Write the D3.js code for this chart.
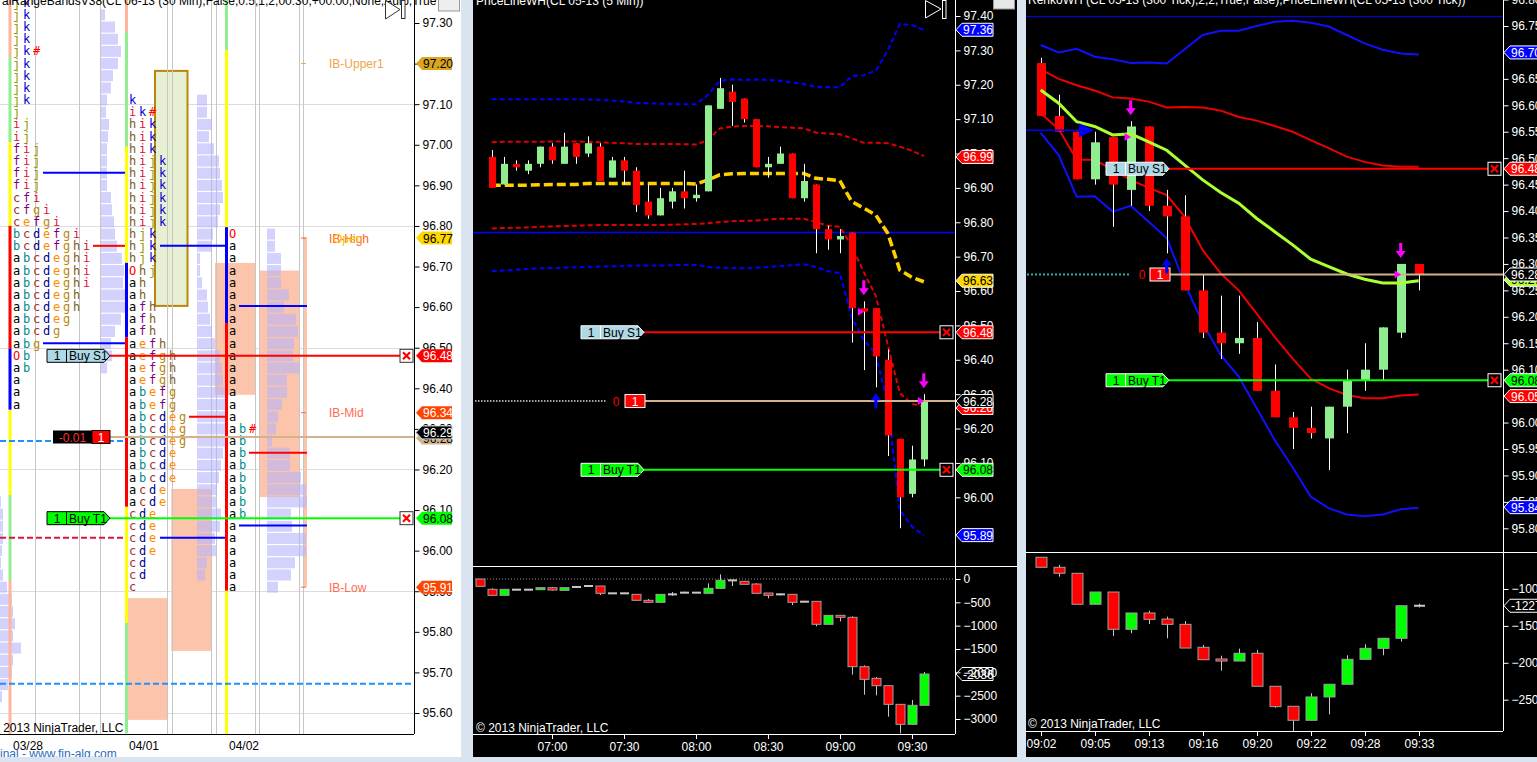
<!DOCTYPE html>
<html><head><meta charset="utf-8">
<script src="https://cdn.jsdelivr.net/npm/d3@7"></script>
<style>
html,body{margin:0;padding:0;background:#d9e4f0;overflow:hidden}
svg{display:block}
</style></head><body>
<svg id="c" width="1537" height="762"></svg>
<script>
// ================= DATA =================
// ---- Left panel: 30 min TPO profile (CL 06-13) ----
const sessions = ["03/28", "04/01", "04/02"];
const tpoStep = 0.03;
const sess1Top = 97.35;
const sess1Rows = ["jk","jk","jk","jk","jk#","jk","jk","jk","jk","j","ij","ij","fij","fij","fij","fij","cfi","cfgi","cefgi","bcdefgi","bcdefghi","abcdeghi","abcdeghi","abcdeghi","abcdegh","abcdegh","abcdeg","abcdg","abg","Ob","ab","a","a","a"];
const sess2Top = 97.11;
const sess2Rows = ["k","ik#","hik","hik","hik","hijk","hijk","hijk","hijk","hijk","hijk","hjk","hjk","hjk","Ohj","ah","ah","afh","afh","afh","aefh","aefgh","aefgh","aefgh","abefg","abefg","abcdeg","abcdeg","abcdeg","abcde","abcde","abcde","acde","acde","cde","cde","cde","cde","cd","cd","c"];
const sess3Top = 96.78;
const sess3Rows = ["O","a","a","a","a","a","a","a","a","a","a","a","a","a","a","a","ab#","ab","ab","ab","ab","ab","ab","ab","a","a","a","a","a","a"];
// volume profiles (relative volume per row)
const prof0Top = 96.12, prof0Vol = [1,3,3,3,2,1,3,7,12,13,15,13,21,13,12,8,2];
const prof1Top = 97.32, prof1Vol = [4,14,17,20,17,12,10,6,5,8,7,6,6,6,6,10,11,13,14,16,21,23,22,25,24,20,14,10,11,6];
const prof2Top = 97.11, prof2Vol = [10,10,15,12,17,22,23,25,26,23,21,16,15,3,3,5,10,11,13,15,18,23,25,26,28,30,30,30,28,26,24,22,20,19,24,23,18,19,10,8];
const prof3Top = 96.78, prof3Vol = [8,8,14,14,14,22,17,29,31,27,26,33,20,20,15,11,9,5,23,23,34,39,40,24,25,39,39,28,24,11];
// session range bar boundaries (prices)
const sess1Seg = [97.36,97.216,97.007,96.800,96.497,96.347,96.137,95.928,95.53];
const sess2Seg = [97.36,97.278,96.995,96.709,96.526,96.108,95.822,95.55];
const sess3Seg = [97.36,97.233,96.797,96.561,95.901,95.53];
// range blocks (high, low)
const blocks0401 = [[95.883,95.583],[96.152,95.753]];
const blocks0402 = [[96.709,96.384],[96.690,96.132],[96.772,95.91]];
const ibBox0401 = [97.182,96.603];
// profile levels
const levels1 = [96.931,96.511,96.751];
const levels2 = [96.751,96.330,96.032];
const levels3 = [96.603,96.241,96.062];
const prevLevels = [96.270,96.032,95.672];
const ibLevels = [97.20,96.77,96.34,95.91];
const ibNames = ["IB-Upper1","IB-High","IB-Mid","IB-Low"];
const leftTicks = [97.30,97.20,97.10,97.00,96.90,96.80,96.70,96.60,96.50,96.40,96.30,96.20,96.10,96.00,95.90,95.80,95.70,95.60];
const leftGrid = [97.10,96.80,96.50,96.20,95.90,95.60];
const leftMarkerVals = [97.20,96.77,96.48,96.34,96.28,96.29,96.08,95.91];
// trade levels
const stopS1 = 96.48, entryPx = 96.28, targetT1 = 96.08;

// ---- Middle panel: CL 05-13 (5 Min) ----
const midTimes = ["06:35","06:40","06:45","06:50","06:55","07:00","07:05","07:10","07:15","07:20","07:25","07:30","07:35","07:40","07:45","07:50","07:55","08:00","08:05","08:10","08:15","08:20","08:25","08:30","08:35","08:40","08:45","08:50","08:55","09:00","09:05","09:10","09:15","09:20","09:25","09:30","09:35"];
const midOpen  = [96.99,96.91,96.97,96.95,96.97,97.02,96.97,97.03,97.00,97.02,96.93,96.98,96.95,96.86,96.82,96.86,96.89,96.87,96.89,97.13,97.18,97.16,97.10,96.96,96.97,97.00,96.87,96.91,96.78,96.75,96.77,96.55,96.55,96.40,96.17,96.01,96.11];
const midHigh  = [97.01,96.99,96.98,96.98,97.02,97.03,97.06,97.03,97.05,97.03,96.99,96.99,96.96,96.91,96.90,96.90,96.95,96.91,97.14,97.22,97.20,97.16,97.10,96.99,97.02,97.00,96.97,96.91,96.79,96.78,96.77,96.57,96.55,96.43,96.17,96.15,96.30];
const midLow   = [96.90,96.91,96.95,96.94,96.96,96.97,96.97,96.97,96.99,96.92,96.93,96.91,96.83,96.81,96.82,96.84,96.84,96.86,96.89,97.13,97.08,97.09,96.96,96.93,96.97,96.87,96.86,96.71,96.72,96.71,96.45,96.37,96.32,96.12,95.91,96.00,96.09];
const midClose = [96.90,96.97,96.96,96.97,97.02,96.98,97.02,96.99,97.03,96.92,96.98,96.95,96.85,96.82,96.87,96.89,96.87,96.88,97.14,97.19,97.15,97.10,96.96,96.97,97.00,96.87,96.92,96.78,96.75,96.76,96.55,96.54,96.41,96.18,96.00,96.11,96.28];
const midUpperBlue = [97.158,97.158,97.158,97.158,97.158,97.158,97.158,97.158,97.157,97.156,97.154,97.151,97.148,97.146,97.145,97.144,97.143,97.143,97.170,97.211,97.216,97.214,97.215,97.214,97.212,97.207,97.202,97.194,97.193,97.193,97.225,97.228,97.241,97.300,97.377,97.374,97.359];
const midUpperRed  = [97.033,97.034,97.034,97.034,97.034,97.035,97.035,97.035,97.034,97.033,97.031,97.030,97.028,97.028,97.028,97.028,97.027,97.026,97.039,97.073,97.078,97.080,97.080,97.079,97.077,97.075,97.073,97.061,97.058,97.056,97.044,97.031,97.031,97.030,97.020,97.008,96.993];
const midCenter    = [96.908,96.908,96.908,96.908,96.909,96.910,96.910,96.910,96.913,96.913,96.913,96.913,96.913,96.913,96.913,96.913,96.913,96.911,96.923,96.938,96.941,96.942,96.942,96.942,96.942,96.942,96.942,96.928,96.925,96.921,96.860,96.841,96.821,96.768,96.661,96.640,96.627];
const midLowerRed  = [96.782,96.783,96.784,96.785,96.787,96.788,96.789,96.790,96.791,96.792,96.792,96.792,96.792,96.792,96.792,96.793,96.794,96.795,96.797,96.801,96.803,96.804,96.805,96.808,96.810,96.810,96.810,96.801,96.790,96.787,96.730,96.655,96.586,96.443,96.303,96.272,96.264];
const midLowerBlue = [96.658,96.660,96.662,96.664,96.666,96.667,96.668,96.669,96.670,96.671,96.672,96.673,96.674,96.674,96.674,96.675,96.676,96.676,96.670,96.668,96.667,96.666,96.668,96.670,96.673,96.675,96.678,96.670,96.658,96.652,96.522,96.458,96.417,96.269,95.963,95.915,95.890];
const midIBHigh = 96.77;
const midTicks = [97.40,97.30,97.20,97.10,97.00,96.90,96.80,96.70,96.60,96.50,96.40,96.30,96.20,96.10,96.00];
const midMarkerVals = [97.36,96.99,96.63,96.48,96.26,96.28,96.08,95.89];
const midTimeTicks = ["07:00","07:30","08:00","08:30","09:00","09:30"];
const midDownSignals = ["09:10","09:35"];
const midUpSignals = ["09:15"];
const midTriSignals = [["09:10",96.54],["09:35",96.28]];
// lower pane (cumulative delta)
const deltaTimes = ["06:30","06:35","06:40","06:45","06:50","06:55","07:00","07:05","07:10","07:15","07:20","07:25","07:30","07:35","07:40","07:45","07:50","07:55","08:00","08:05","08:10","08:15","08:20","08:25","08:30","08:35","08:40","08:45","08:50","08:55","09:00","09:05","09:10","09:15","09:20","09:25","09:30","09:35"];
const deltaOpen  = [0,-221,-350,-229,-229,-229,-186,-243,-171,-150,-150,-307,-307,-329,-457,-500,-329,-293,-293,-307,-200,-29,-50,-107,-300,-329,-329,-486,-479,-971,-779,-821,-1879,-2129,-2286,-2686,-3114,-2707];
const deltaHigh  = [0,-200,-221,-215,-220,-186,-170,-186,-160,-140,-150,-300,-295,-329,-430,-329,-280,-270,-280,-93,100,-20,-40,-90,-300,-310,-329,-470,-479,-779,-779,-800,-1850,-2100,-2286,-2686,-2593,-1993];
const deltaLow   = [-160,-350,-350,-240,-235,-229,-250,-243,-180,-160,-343,-320,-315,-470,-500,-500,-360,-300,-300,-307,-200,-150,-114,-307,-414,-350,-560,-500,-1014,-971,-907,-2050,-2479,-2493,-2950,-3307,-3114,-2707];
const deltaClose = [-157,-350,-221,-229,-229,-186,-236,-186,-171,-150,-307,-307,-307,-457,-500,-329,-329,-293,-293,-200,-29,-29,-114,-307,-350,-329,-500,-486,-971,-779,-821,-1879,-2150,-2286,-2686,-3114,-2707,-2036];
const deltaTicks = [0,-500,-1000,-1500,-2000,-2500,-3000];

// ---- Right panel: CL 05-13 (300 Tick) ----
const rOpen  = [96.68,96.58,96.55,96.46,96.54,96.44,96.56,96.41,96.39,96.25,96.17,96.15,96.16,96.06,96.01,95.99,95.97,96.03,96.08,96.10,96.17,96.30];
const rHigh  = [96.69,96.62,96.55,96.55,96.54,96.57,96.56,96.44,96.43,96.28,96.24,96.24,96.19,96.11,96.02,96.03,96.03,96.10,96.15,96.18,96.30,96.30];
const rLow   = [96.58,96.55,96.46,96.45,96.37,96.41,96.40,96.32,96.25,96.16,96.12,96.13,96.06,96.01,95.95,95.97,95.91,95.98,96.06,96.08,96.16,96.25];
const rClose = [96.58,96.55,96.46,96.53,96.45,96.56,96.41,96.39,96.25,96.17,96.15,96.16,96.06,96.01,95.99,95.98,96.03,96.08,96.10,96.18,96.30,96.28];
const rUpperBlue = [96.714,96.700,96.707,96.692,96.687,96.680,96.681,96.679,96.706,96.733,96.741,96.741,96.750,96.758,96.760,96.756,96.749,96.733,96.717,96.705,96.698,96.696];
const rUpperRed  = [96.668,96.650,96.638,96.628,96.615,96.613,96.607,96.596,96.597,96.596,96.590,96.578,96.571,96.561,96.550,96.534,96.519,96.503,96.493,96.486,96.484,96.484];
const rMid       = [96.629,96.604,96.569,96.560,96.544,96.546,96.531,96.515,96.487,96.459,96.435,96.415,96.386,96.361,96.336,96.309,96.295,96.281,96.271,96.264,96.264,96.268];
const rLowerRed  = [96.585,96.555,96.497,96.497,96.478,96.459,96.444,96.430,96.389,96.326,96.282,96.250,96.206,96.162,96.121,96.083,96.065,96.052,96.046,96.046,96.051,96.053];
const rLowerBlue = [96.548,96.506,96.427,96.428,96.399,96.410,96.380,96.349,96.263,96.188,96.128,96.087,96.027,95.967,95.915,95.860,95.838,95.826,95.823,95.826,95.836,95.839];
const rdOpen  = [-570,-706,-787,-1207,-1041,-1546,-1325,-1407,-1479,-1790,-1948,-1976,-1871,-2318,-2589,-2779,-2463,-2291,-1953,-1804,-1668,-1227];
const rdHigh  = [-570,-675,-787,-1041,-1041,-1325,-1294,-1375,-1434,-1759,-1904,-1809,-1827,-2318,-2589,-2413,-2291,-1898,-1749,-1668,-1227,-1200];
const rdLow   = [-706,-833,-1207,-1207,-1637,-1600,-1474,-1668,-1800,-1958,-2107,-1976,-2318,-2610,-2924,-2779,-2698,-2291,-1953,-1898,-1714,-1250];
const rdClose = [-706,-787,-1207,-1041,-1546,-1325,-1411,-1479,-1800,-1958,-1976,-1871,-2318,-2594,-2779,-2463,-2291,-1953,-1804,-1668,-1227,-1227];
const rTickIdx = [0,3,6,9,12,15,18,21];
const rTickLabels = ["09:02","09:05","09:13","09:16","09:20","09:22","09:28","09:33"];
const rTicks = [96.80,96.75,96.70,96.65,96.60,96.55,96.50,96.45,96.40,96.35,96.30,96.25,96.20,96.15,96.10,96.05,96.00,95.95,95.90,95.85,95.80];
const rDeltaTicks = [-1000,-1500,-2000,-2500];
const rMarkerVals = [96.70,96.48,96.27,96.28,96.08,96.05,95.84];
const rIBHigh = 96.768, rEntryArrow = 96.553;
const rDownSignals = [5,20], rUpSignals = [7];
const rTriSignals = [[5,96.54],[20,96.28]];

// ================= DRAWING =================
const FONT = '"Liberation Sans", Arial, sans-serif';
const svg = d3.select('#c');
const defs = svg.append('defs');
function clip(id,x,y,w,h){defs.append('clipPath').attr('id',id).append('rect').attr('x',x).attr('y',y).attr('width',w).attr('height',h);}
clip('cL',0,0,414,734); clip('cLA',0,0,461,757);
clip('cMU',473,0,482,566); clip('cML',473,567,482,167); clip('cMA',473,0,544,757);
clip('cRU',1026,0,477,552); clip('cRL',1026,553,477,178); clip('cRA',1026,0,511,757);

function txt(g,x,y,s,o={}){return g.append('text').attr('x',x).attr('y',y).text(s)
  .attr('font-size',o.size||12).attr('fill',o.fill||'#000').attr('text-anchor',o.anchor||'start')
  .attr('dominant-baseline',o.base||'central').attr('font-family',o.family||FONT);}
function hline(g,y,x1,x2,c,w,dash){const l=g.append('line').attr('x1',x1).attr('x2',x2).attr('y1',y).attr('y2',y).attr('stroke',c).attr('stroke-width',w||1);if(dash)l.attr('stroke-dasharray',dash);return l;}
function vline(g,x,y1,y2,c,w){return g.append('line').attr('x1',x).attr('x2',x).attr('y1',y1).attr('y2',y2).attr('stroke',c).attr('stroke-width',w||1);}
function marker(g,x,y,label,bg,fg,stroke,w){w=w||37;const h=13;
  g.append('path').attr('d',`M${x},${y}L${x+6},${y-h/2}L${x+w},${y-h/2}L${x+w},${y+h/2}L${x+6},${y+h/2}Z`)
   .attr('fill',bg).attr('stroke',stroke||'none').attr('stroke-width',1);
  txt(g,x+7,y+0.5,label,{fill:fg,size:12});}
function orderLabel(g,x,y,qty,name,bg,stroke){const h=13,w=63;
  g.append('path').attr('d',`M${x},${y-h/2}H${x+w-6}L${x+w},${y}L${x+w-6},${y+h/2}H${x}Z`).attr('fill',bg).attr('stroke',stroke).attr('stroke-width',1);
  vline(g,x+19.5,y-h/2,y+h/2,stroke,1);
  txt(g,x+10,y+0.5,qty,{anchor:'middle',size:12});
  txt(g,x+22,y+0.5,name,{size:12});}
function xbox(g,x,y,bg,border){g.append('rect').attr('x',x).attr('y',y-6.5).attr('width',13).attr('height',13).attr('fill',bg).attr('stroke',border);
  g.append('path').attr('d',`M${x+3},${y-3.5}L${x+10},${y+3.5}M${x+10},${y-3.5}L${x+3},${y+3.5}`).attr('stroke','#ff0000').attr('stroke-width',2.2);}
function downArrow(g,x,yTip,c){g.append('path').attr('d',`M${x-1.5},${yTip-15}h3v8h3.5L${x},${yTip}L${x-5},${yTip-7}h3.5Z`).attr('fill',c);}
function upArrow(g,x,yTip,c){g.append('path').attr('d',`M${x-1.5},${yTip+15}h3v-8h3.5L${x},${yTip}L${x-5},${yTip+7}h3.5Z`).attr('fill',c);}
function rightTri(g,x,y,c,s){s=s||4;g.append('path').attr('d',`M${x-s},${y-s}L${x+s*0.6},${y}L${x-s},${y+s}Z`).attr('fill',c);}
function candles(g,n,xf,O,Hh,L,C,yf,bw,up,down,wick,outline,dojiC){
  for(let i=0;i<n;i++){const x=Math.round(xf(i))+0.5;
    vline(g,x,yf(Hh[i]),yf(L[i]),wick,1);
    const y1=yf(Math.max(O[i],C[i])),y2=yf(Math.min(O[i],C[i]));
    if(O[i]===C[i]){g.append('rect').attr('x',x-bw/2).attr('y',y1-1).attr('width',bw).attr('height',2).attr('fill',dojiC||'#ccc');}
    else{g.append('rect').attr('x',x-bw/2).attr('y',y1).attr('width',bw).attr('height',Math.max(1.5,y2-y1))
      .attr('fill',C[i]>O[i]?up:down).attr('stroke',outline||'none').attr('stroke-width',1);}
  }}
const tm=s=>{const [h,m]=s.split(':').map(Number);return h*60+m;};

// ---------- LEFT PANEL ----------
const yL = d3.scaleLinear().domain([97.30,95.60]).range([23,713]);
const xSess = d3.scaleOrdinal().domain(sessions).range([9,125,225]);
const volX = d3.scaleLinear().domain([0,10]).range([0,10]);
const L = svg.append('g').attr('clip-path','url(#cLA)');
L.append('rect').attr('x',0).attr('y',0).attr('width',461).attr('height',757).attr('fill','#fff');
const LP = L.append('g').attr('clip-path','url(#cL)');
leftGrid.forEach(p=>hline(LP,Math.round(yL(p))+0.5,0,414,'#dcdcdc',1));
// range blocks
const salmon = '#fcc4aa';
const b1x=[[127.7,167.3],[171.3,211.3]], b2x=[[215,255],[259,299],[303,307]];
blocks0401.forEach((b,i)=>LP.append('rect').attr('x',b1x[i][0]).attr('width',b1x[i][1]-b1x[i][0]).attr('y',yL(b[0])).attr('height',yL(b[1])-yL(b[0])).attr('fill',salmon));
blocks0402.forEach((b,i)=>LP.append('rect').attr('x',b2x[i][0]).attr('width',b2x[i][1]-b2x[i][0]).attr('y',yL(b[0])).attr('height',yL(b[1])-yL(b[0])).attr('fill',salmon));
LP.append('rect').attr('x',155).attr('width',32.5).attr('y',yL(ibBox0401[0])).attr('height',yL(ibBox0401[1])-yL(ibBox0401[0]))
  .attr('fill','#e8f0d4').attr('stroke','#b8860b').attr('stroke-width',2);
[35,79,100,167,172,211,216,255,259,299,303].forEach(x=>vline(LP,x+0.5,0,734,'#c6c6c6',1));
// profiles
function drawProfile(vols,top,x0){vols.forEach((v,i)=>{const y=yL(top-i*tpoStep);
  LP.append('rect').attr('x',x0).attr('y',y-5.5).attr('width',volX(v)).attr('height',11).attr('fill','rgb(180,180,250)').attr('fill-opacity',0.6);});}
drawProfile(prof0Vol,prof0Top,0);
drawProfile(prof1Vol,prof1Top,101);
drawProfile(prof2Vol,prof2Top,197);
drawProfile(prof3Vol,prof3Top,267);
// session range bars
function drawSeg(seg,colors,x){for(let i=0;i<seg.length-1;i++)LP.append('rect').attr('x',x-1.5).attr('width',3).attr('y',yL(seg[i])).attr('height',yL(seg[i+1])-yL(seg[i])).attr('fill',colors[i]);}
const SAL='#ffb49c',LG='#90ee90',YL='#ffff00',RD='#ff0000',BL='#0000ff';
drawSeg(sess1Seg,[SAL,LG,YL,RD,BL,YL,LG,SAL],xSess("03/28")+1);
drawSeg(sess2Seg,[SAL,LG,YL,BL,RD,YL,LG],xSess("04/01")+1.5);
drawSeg(sess3Seg,[LG,YL,BL,RD,YL],xSess("04/02")+1.5);
// profile level lines
hline(LP,yL(levels1[0]),43,125,BL,2); hline(LP,yL(levels1[1]),43,125,BL,2); hline(LP,yL(levels1[2]),93,125,RD,2);
hline(LP,yL(levels2[0]),160,225,BL,2); hline(LP,yL(levels2[1]),189,225,RD,2); hline(LP,yL(levels2[2]),160,225,BL,2);
hline(LP,yL(levels3[0]),239,307,BL,2); hline(LP,yL(levels3[1]),249,307,RD,2); hline(LP,yL(levels3[2]),239,307,BL,2);
hline(LP,yL(prevLevels[0]),0,125,'#1e90ff',2,'6,3');
hline(LP,yL(prevLevels[1]),0,125,'#dc143c',2,'6,3');
hline(LP,yL(prevLevels[2]),0,414,'#1e90ff',2,'6,3');
// TPO letters
const letterColor={a:'#000000',b:'#008b8b',c:'#a52a2a',d:'#00008b',e:'#ff8c00',f:'#800080',g:'#b8860b',h:'#7a5c1e',i:'#dc143c',j:'#999900',k:'#0000cd',O:'#ff0000','#':'#ff0000'};
function drawTPO(rows,top,x0){rows.forEach((row,i)=>{const y=yL(top-i*tpoStep);
  [...row].forEach((ch,k)=>txt(LP,x0+k*10,y,ch,{fill:letterColor[ch],size:12,anchor:'middle',family:'"DejaVu Sans Mono", monospace'}));});}
drawTPO(sess1Rows,sess1Top,xSess("03/28")+7.5);
drawTPO(sess2Rows,sess2Top,xSess("04/01")+7.5);
drawTPO(sess3Rows,sess3Top,xSess("04/02")+7.5);
// trade lines
hline(LP,yL(stopS1),110,400,'#ff0000',2);
hline(LP,yL(entryPx),110,414,'#d2b48c',2);
hline(LP,yL(targetT1),110,400,'#00ff00',2);
orderLabel(LP,47,yL(stopS1),'1','Buy S1','#add8e6','#000');
orderLabel(LP,47,yL(targetT1),'1','Buy T1','#00ff00','#000');
LP.append('rect').attr('x',53).attr('y',yL(entryPx)-6.5).attr('width',39).attr('height',13).attr('fill','#000');
txt(LP,72.5,yL(entryPx)+0.5,'-0.01',{fill:'#ff3030',anchor:'middle'});
LP.append('rect').attr('x',92).attr('y',yL(entryPx)-6.5).attr('width',18).attr('height',13).attr('fill','#ff0000').attr('stroke','#000');
txt(LP,101,yL(entryPx)+0.5,'1',{fill:'#fff',anchor:'middle'});
xbox(LP,400,yL(stopS1),'#fff','#333');
xbox(LP,400,yL(targetT1),'#fff','#333');
// IB labels
const ibCol=['#f0a448','#ff6030','#ff6a50','#ff6a50'];
ibLevels.forEach((p,i)=>{hline(LP,yL(p),301,306,ibCol[i],1);txt(LP,329,yL(p)+0.5,ibNames[i],{fill:ibCol[i],size:12});});
txt(LP,333,yL(ibLevels[1])+0.5,'Open',{fill:'#f5c400',size:12});
// left axis
const axL = L.append('g').attr('transform','translate(414.5,0)').call(d3.axisRight(yL).tickValues(leftTicks).tickSize(5).tickPadding(3).tickFormat(d3.format('.2f')));
axL.select('.domain').remove();
axL.selectAll('text').attr('font-family',FONT).attr('font-size',12).attr('fill','#000');
axL.selectAll('line').attr('stroke','#000');
vline(L,414.5,0,734,'#000',1); hline(L,734.5,0,414,'#000',1);
const lmStyle=[['#daa520','#000'],['#ffd700','#000'],['#ff0000','#fff'],['#ff4500','#fff'],['#d2b48c','#000'],['#000','#fff'],['#00ff00','#000'],['#ff4500','#fff']];
leftMarkerVals.forEach((v,i)=>{const off=(i===4)?1:(i===5?-0.5:0);
  marker(L,416,yL(v)+off,d3.format('.2f')(v),lmStyle[i][0],lmStyle[i][1],i===5?'#ddd':'none',36);});
// bottom labels
sessions.forEach(s=>txt(L,xSess(s)+4,746,s,{size:12}));
txt(L,-9,728,'© 2013 NinjaTrader, LLC',{size:12});
txt(L,0,754,'inal - www.fin-alg.com',{size:12,fill:'#2a6ebb'});
txt(L,2,1,'alRangeBandsV38(CL 06-13 (30 Min),False,0.5,1,2,00:30,+00:00,None,Auto,True',{size:12});
L.append('path').attr('d','M385.5,0.5L400,9.5L385.5,19Z').attr('fill','#fff').attr('stroke','#333');
L.append('rect').attr('x',401.5).attr('y',0.5).attr('width',3.5).attr('height',18).attr('fill','#fff').attr('stroke','#333');
L.append('rect').attr('x',438.5).attr('y',-2).attr('width',21).attr('height',13).attr('fill','#eee').attr('stroke','#999');

// ---------- MIDDLE PANEL ----------
const M = svg.append('g').attr('clip-path','url(#cMA)');
M.append('rect').attr('x',473).attr('y',0).attr('width',544).attr('height',757).attr('fill','#000');
const yM = d3.scaleLinear().domain([97.40,96.00]).range([16,497.3]);
const xM = d3.scaleLinear().domain([tm('07:00'),tm('09:30')]).range([551.8,911.8]);
const MU = M.append('g').attr('clip-path','url(#cMU)');
hline(MU,yM(midIBHigh),473,955,'#0000ff',1.5);
const lnM = d3.line().x((d,i)=>xM(tm(midTimes[i]))).y(d=>yM(d));
const bandM = (arr,c,w,dash)=>MU.append('path').datum(arr).attr('d',lnM).attr('fill','none').attr('stroke',c).attr('stroke-width',w).attr('stroke-dasharray',dash);
bandM(midUpperBlue,'#0000ff',2,'5,3');
bandM(midUpperRed,'#e00000',2,'5,3');
bandM(midLowerRed,'#e00000',2,'5,3');
bandM(midLowerBlue,'#0000ff',2,'5,3');
bandM(midCenter,'#ffd000',3.5,'9,4');
candles(MU,midTimes.length,i=>xM(tm(midTimes[i])),midOpen,midHigh,midLow,midClose,yM,7,'#90ee90','#ff0000','#fff',null,'#fff');
// trade lines
hline(MU,yM(stopS1),643,940,'#ff0000',2);
hline(MU,yM(entryPx),645,955,'#d2b48c',2);
hline(MU,yM(entryPx),475,607,'#d8d8d8',1.5,'1.5,1.5');
hline(MU,yM(targetT1),643,940,'#00ff00',2);
orderLabel(MU,581,yM(stopS1),'1','Buy S1','#add8e6','#fff');
orderLabel(MU,581,yM(targetT1),'1','Buy T1','#00ff00','#fff');
txt(MU,616,yM(entryPx)+0.5,'0',{fill:'#ff0000',anchor:'middle'});
MU.append('rect').attr('x',625).attr('y',yM(entryPx)-6.5).attr('width',20).attr('height',13).attr('fill','#ff0000').attr('stroke','#fff');
txt(MU,635,yM(entryPx)+0.5,'1',{fill:'#fff',anchor:'middle'});
xbox(MU,940,yM(stopS1),'#000','#fff');
xbox(MU,940,yM(targetT1),'#000','#fff');
midDownSignals.forEach(t=>{const i=midTimes.indexOf(t);downArrow(MU,xM(tm(t)),yM(midHigh[i])-6,'#ff00ff');});
midUpSignals.forEach(t=>{const i=midTimes.indexOf(t);upArrow(MU,xM(tm(t)),yM(midLow[i])+6,'#0000ff');});
midTriSignals.forEach(([t,p])=>rightTri(MU,xM(tm(t))-2,yM(p),'#ff00ff'));
// axis
vline(M,955.5,0,734,'#fff',1); hline(M,566.5,473,1017,'#fff',1); hline(M,734.5,473,955,'#fff',1);
const axM = M.append('g').attr('transform','translate(955.5,0)').call(d3.axisRight(yM).tickValues(midTicks).tickSize(5).tickPadding(3).tickFormat(d3.format('.2f')));
axM.select('.domain').remove(); axM.selectAll('text').attr('font-family',FONT).attr('font-size',12).attr('fill','#fff'); axM.selectAll('line').attr('stroke','#fff');
const mmStyle=[['#0000ff','#fff'],['#ff0000','#fff'],['#ffd700','#000'],['#ff0000','#fff'],['#ff0000','#fff'],['#000','#fff'],['#00ff00','#000'],['#0000ff','#fff']];
midMarkerVals.forEach((v,i)=>marker(M,956,yM(v),d3.format('.2f')(v),mmStyle[i][0],mmStyle[i][1],'#fff',37));
// lower pane
const yMD = d3.scaleLinear().domain([0,-3000]).range([579,719]);
const ML = M.append('g').attr('clip-path','url(#cML)');
hline(ML,yMD(0),475,955,'#909090',1,'1,2');
candles(ML,deltaTimes.length,i=>xM(tm(deltaTimes[i])),deltaOpen,deltaHigh,deltaLow,deltaClose,yMD,9,'#00ff00','#ff0000','#c8c8c8','#a0a0a0','#c8c8c8');
marker(M,956,yMD(deltaClose[deltaClose.length-1]),'-2036','#000','#fff','#fff',37);
const axMD = M.append('g').attr('transform','translate(955.5,0)').call(d3.axisRight(yMD).tickValues(deltaTicks).tickSize(5).tickPadding(3).tickFormat(d3.format('d')));
axMD.select('.domain').remove(); axMD.selectAll('text').attr('font-family',FONT).attr('font-size',12).attr('fill','#fff'); axMD.selectAll('line').attr('stroke','#fff');
midTimeTicks.forEach(t=>{const x=Math.round(xM(tm(t)))+0.5;vline(M,x,734,739,'#fff',1);txt(M,x,747,t,{fill:'#fff',anchor:'middle'});});
txt(M,476,728,'© 2013 NinjaTrader, LLC',{fill:'#fff'});
txt(M,476,1,'PriceLineWH(CL 05-13 (5 Min))',{fill:'#fff'});
M.append('path').attr('d','M925.5,0.5L941,9L925.5,18Z').attr('fill','none').attr('stroke','#fff');
M.append('rect').attr('x',942.5).attr('y',0.5).attr('width',3.5).attr('height',18).attr('fill','none').attr('stroke','#fff');
M.append('rect').attr('x',993.5).attr('y',-3).attr('width',21).attr('height',12).attr('fill','#e6e6e6').attr('stroke','#999');

// ---------- RIGHT PANEL ----------
const R = svg.append('g').attr('clip-path','url(#cRA)');
R.append('rect').attr('x',1026).attr('y',0).attr('width',511).attr('height',757).attr('fill','#000');
const yR = d3.scaleLinear().domain([96.75,95.80]).range([26,528.3]);
const xR = d3.scaleLinear().domain([0,21]).range([1040.7,1418.7]);
const RU = R.append('g').attr('clip-path','url(#cRU)');
hline(RU,yR(rIBHigh),1026,1503,'#0000ff',1);
const lnR = d3.line().x((d,i)=>xR(i)).y(d=>yR(d));
const bandR=(arr,c,w)=>RU.append('path').datum(arr).attr('d',lnR).attr('fill','none').attr('stroke',c).attr('stroke-width',w);
bandR(rUpperBlue,'#1010ff',2); bandR(rUpperRed,'#ee0000',2); bandR(rLowerRed,'#ee0000',2); bandR(rLowerBlue,'#1010ff',2);
candles(RU,rOpen.length,xR,rOpen,rHigh,rLow,rClose,yR,9,'#90ee90','#ff0000','#fff',null,'#fff');
bandR(rMid,'#adff2f',3);
hline(RU,yR(rEntryArrow),1026,1080,'#0000ff',1.5);
RU.append('path').attr('d',`M1079,${yR(rEntryArrow)-7}L1094,${yR(rEntryArrow)}L1079,${yR(rEntryArrow)+7}Z`).attr('fill','#0000ff');
hline(RU,yR(stopS1),1169,1488,'#ff0000',2);
hline(RU,yR(entryPx),1170,1503,'#d2b48c',2);
hline(RU,yR(entryPx),1027,1130,'#20b2aa',2,'2,2');
hline(RU,yR(targetT1),1169,1488,'#00ff00',2);
orderLabel(RU,1106,yR(stopS1),'1','Buy S1','#add8e6','#fff');
orderLabel(RU,1106,yR(targetT1),'1','Buy T1','#00ff00','#fff');
txt(RU,1142,yR(entryPx)+0.5,'0',{fill:'#ff0000',anchor:'middle'});
RU.append('rect').attr('x',1150).attr('y',yR(entryPx)-6.5).attr('width',20).attr('height',13).attr('fill','#ff0000').attr('stroke','#fff');
txt(RU,1160,yR(entryPx)+0.5,'1',{fill:'#fff',anchor:'middle'});
xbox(RU,1488,yR(stopS1),'#000','#fff');
xbox(RU,1488,yR(targetT1),'#000','#fff');
rDownSignals.forEach(i=>downArrow(RU,xR(i),yR(rHigh[i])-6,'#ff00ff'));
rUpSignals.forEach(i=>upArrow(RU,xR(i),yR(rLow[i])+5,'#0000ff'));
rTriSignals.forEach(([i,p])=>rightTri(RU,xR(i)-2,yR(p),'#ff00ff'));
vline(R,1503.5,0,731,'#fff',1); hline(R,552.5,1026,1537,'#fff',1); hline(R,731.5,1026,1503,'#fff',1);
const axR = R.append('g').attr('transform','translate(1503.5,0)').call(d3.axisRight(yR).tickValues(rTicks).tickSize(5).tickPadding(3).tickFormat(d3.format('.2f')));
axR.select('.domain').remove(); axR.selectAll('text').attr('font-family',FONT).attr('font-size',12).attr('fill','#fff'); axR.selectAll('line').attr('stroke','#fff');
const rmStyle=[['#0000ff','#fff'],['#ff0000','#fff'],['#adff2f','#000'],['#000','#fff'],['#00ff00','#000'],['#ff0000','#fff'],['#0000ff','#fff']];
rMarkerVals.forEach((v,i)=>marker(R,1504,yR(v),d3.format('.2f')(v),rmStyle[i][0],rmStyle[i][1],'#fff',40));
const yRD = d3.scaleLinear().domain([-1000,-2500]).range([589,699.7]);
const RL = R.append('g').attr('clip-path','url(#cRL)');
candles(RL,rdOpen.length,xR,rdOpen,rdHigh,rdLow,rdClose,yRD,11,'#00ff00','#ff0000','#c8c8c8','#a0a0a0','#c8c8c8');
const axRD = R.append('g').attr('transform','translate(1503.5,0)').call(d3.axisRight(yRD).tickValues(rDeltaTicks).tickSize(5).tickPadding(3).tickFormat(d3.format('d')));
axRD.select('.domain').remove(); axRD.selectAll('text').attr('font-family',FONT).attr('font-size',12).attr('fill','#fff'); axRD.selectAll('line').attr('stroke','#fff');
marker(R,1504,yRD(rdClose[rdClose.length-1]),'-1227','#000','#fff','#fff',40);
rTickIdx.forEach((idx,k)=>{const x=Math.round(xR(idx))+0.5;vline(R,x,731,736,'#fff',1);txt(R,x,744,rTickLabels[k],{fill:'#fff',anchor:'middle'});});
txt(R,1028,724,'© 2013 NinjaTrader, LLC',{fill:'#fff'});
txt(R,1028,0,'RenkoWH (CL 05-13 (300 Tick),2,2,True,False),PriceLineWH(CL 05-13 (300 Tick))',{fill:'#fff'});
</script>
</body></html>
